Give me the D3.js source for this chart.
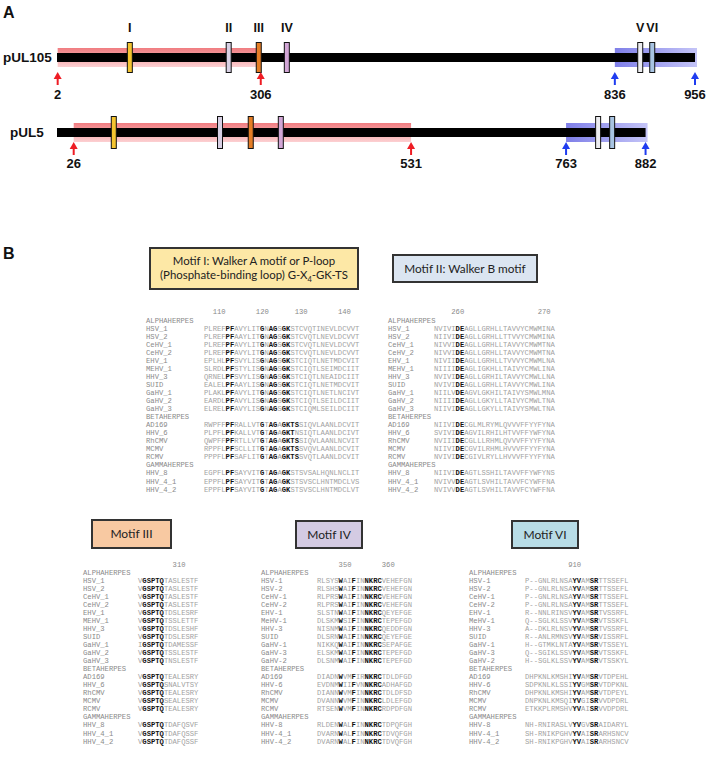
<!DOCTYPE html>
<html><head><meta charset="utf-8">
<script src="https://cdn.jsdelivr.net/npm/d3@7"></script>
<style>body{margin:0;background:#fff}</style>
</head><body><svg id="c" width="710" height="760"></svg>
<script>
// ---------------- Panel A data ----------------
const proteins = ["pUL105", "pUL5"];
const proteinLengths = [956, 882];
const motifNames = ["I", "II", "III", "IV", "V", "VI"];
const motifPosUL105 = [110, 258, 303, 345, 874, 892];
const motifPosUL5 = [86, 245, 291, 336, 811, 832];
const nRegionUL105 = [2, 306];
const cRegionUL105 = [836, 956];
const nRegionUL5 = [26, 531];
const cRegionUL5 = [763, 882];

// ---------------- Panel B data ----------------
const labelsUnderscore = ["ALPHAHERPES","HSV_1","HSV_2","CeHV_1","CeHV_2","EHV_1","MEHV_1","HHV_3","SUID","GaHV_1","GaHV_2","GaHV_3","BETAHERPES","AD169","HHV_6","RhCMV","MCMV","RCMV","GAMMAHERPES","HHV_8","HHV_4_1","HHV_4_2"];
const labelsHyphen = ["ALPHAHERPES","HSV-1","HSV-2","CeHV-1","CeHV-2","EHV-1","MeHV-1","HHV-3","SUID","GaHV-1","GaHV-3","GaHV-2","BETAHERPES","AD169","HHV-6","RhCMV","MCMV","RCMV","GAMMAHERPES","HHV-8","HHV-4_1","HHV-4_2"];

const motif1Seqs = ["",
"PLREF[PF]AVYLIT[G]N[AG]S[GK]STCVQTINEVLDCVVT",
"PLREF[PF]AAYLIT[G]N[AG]S[GK]STCVQTLNEVLDCVVT",
"PLREF[PF]AVYLIT[G]N[AG]S[GK]STCVQTLNEVLDCVVT",
"PLREF[PF]AVYLIT[G]N[AG]S[GK]STCVQTLNEVLDCVVT",
"EPLHL[PF]SVYLIS[G]N[AG]S[GK]STCIQTLNETMDCVIT",
"SLRDL[PF]STYLIS[G]N[AG]S[GK]STCIQTLSEIMDCIIT",
"QRNEL[PF]SVYLIS[G]N[AG]S[GK]STCIQTLNEAIDCIIT",
"EALEL[PF]AAYLIS[G]N[AG]S[GK]STCIQTLNETMDCVIT",
"PLAKL[PF]AVYLIT[G]N[AG]S[GK]STCIQTLNETLNCIVT",
"EARDL[PF]AVYLIS[G]N[AG]S[GK]STCIQTLSEILDCIIT",
"ELREL[PF]AVYLIS[G]N[AG]S[GK]STCIQMLSEILDCIIT",
"",
"RWPFF[PF]RALLVT[G]T[AG]A[GKTS]SIQVLAANLDCVIT",
"PLPFL[PF]KALLVT[G]T[AG]A[GKT]NSIQTLAANLDCIVT",
"QWPFF[PF]RTLLVT[G]T[AG]A[GKTS]SIQVLAANLNCVIT",
"RPPFL[PF]SCLLIT[G]T[AG]A[GKTS]SVQVLAANLDCVIT",
"PPPFL[PF]SAFLIT[G]T[AG]A[GKTS]SVQTLAANLDCVIT",
"",
"EGPFL[PF]SAYVIT[G]T[AG]A[GK]STSVSALHQNLNCLIT",
"EPPFL[PF]SAYVIT[G]T[AG]A[GK]STSVSCLHNTMDCLVS",
"EPPFL[PF]SAYVIT[G]T[AG]A[GK]STSVSCLHNTMDCLVT"];
const motif1TickLabels = ["110","120","130","140"];
const motif1TickCols = [3, 13, 22, 32];

const motif2Seqs = ["",
"NVIVI[DE]AGLLGRHLLTAVVYCMWMINA",
"NIIVI[DE]AGLLGRHLLTTVVYCMWMINA",
"NIVVI[DE]AGLLGRHLLTAVVYCMWMTNA",
"NIVVI[DE]AGLLGRHLLTAVVYCMWMTNA",
"NIVII[DE]AGLLGRHLLTVVVYCMWMLNA",
"NIIII[DE]AGLIGKHLLTAIVYCMWLINA",
"NVIVI[DE]AGLLGRHILTAVVYCMWLLNA",
"NVIVI[DE]AGLLGRHLLTAVVYCMWLINA",
"NIILV[DE]AGVLGKHILTAIVYSMWLMNA",
"NIIII[DE]AGLLGKYLLTAIVYCMWLTNA",
"NIIVI[DE]AGLLGKYLLTAIVYSMWLTNA",
"",
"NIIVI[DE]CGLMLRYMLQVVVFFYYFYNA",
"SVIVI[DE]AGVILRHILHTVVFFYWFYNA",
"NVIII[DE]CGLLLRHMLQVVVFFYYFYNA",
"NIIVI[DE]CGVILRHMLHVVVFFYYFYNA",
"NVIVI[DE]CGIVLRYLLHVVVFFYYFYNA",
"",
"NIIVI[DE]AGTLSSHILTAVVFFYWFYNS",
"NVIVV[DE]AGTLSVHILTAVVFCYWFFNA",
"NVIVV[DE]AGTLSVHILTAVVFCYWFFNA"];
const motif2TickLabels = ["260","270"];
const motif2TickCols = [5, 25];

const motif3Seqs = ["",
"V[GSPTQ]TASLESTF","V[GSPTQ]TASLESTF","V[GSPTQ]TASLESTF","V[GSPTQ]TASLESTF",
"V[GSPTQ]TDSLESRF","V[GSPTQ]TSSLETTF","V[GSPTQ]TDSLESHF","V[GSPTQ]TDSLESRF",
"I[GSPTQ]TDAMESSF","V[GSPTQ]TSSLESTF","V[GSPTQ]TNSLESTF",
"",
"V[GSPTQ]TEALESRY","V[GSPTQ]SNALVTSY","V[GSPTQ]TEALESRY","V[GSPTQ]SEALESRY","V[GSPTQ]TEALESRY",
"",
"V[GSPTQ]TDAFQSVF","V[GSPTQ]TDAFQSSF","V[GSPTQ]TDAFQSSF"];
const motif3TickLabels = ["310"];
const motif3TickCols = [9];

const motif4Seqs = ["",
"RLSYS[W]AI[F]IN[NKRC]VEHEFGN",
"RLSHS[W]AI[F]IN[NKRC]VEHEFGN",
"RLPRS[W]AI[F]IN[NKRC]VEHEFGN",
"RLPRS[W]AI[F]IN[NKRC]VEHEFGN",
"SLSTN[W]AI[F]IN[NKRC]QEYEFGE",
"DLSKM[W]SI[F]IN[NKRC]TEPEFGD",
"NISNM[W]AI[F]IN[NKRC]QEDDFGN",
"DLSRN[W]AI[F]IN[NKRC]QEYEFGE",
"NIKKQ[W]AI[F]IN[NKRC]SEPAFGE",
"ELSKM[W]AI[F]IN[NKRC]TEPEFGD",
"DLSNM[W]AI[F]IN[NKRC]TEPEFGD",
"",
"DIADN[W]VM[F]IR[NKRC]TDLDFGD",
"EVDNM[W]II[F]VN[NKRC]ADHAFGD",
"DIANN[W]VM[F]IN[NKRC]TDLDFSD",
"DVANN[W]VM[F]IN[NKRC]LDLEFGD",
"RTSEN[W]VM[F]IN[NKRC]RDPDFGN",
"",
"RLDEN[W]AL[F]IN[NKRC]TDPQFGH",
"DVARN[W]AL[F]IN[NKRC]TDVQFGH",
"DVARN[W]AL[F]IN[NKRC]TDVQFGH"];
const motif4TickLabels = ["350","360"];
const motif4TickCols = [6, 16];

const motif6Seqs = ["",
"P--GNLRLNSA[YV]AM[SR]TTSSEFL",
"P--GNLRLNSA[YV]AM[SR]TTSSEFL",
"P--GNLRLNSA[YV]AM[SR]TTSSEFL",
"P--GNLRLNSA[YV]AM[SR]TTSSEFL",
"R--NNLRINSV[YV]AM[SR]TVSSRFL",
"Q--SGLKLSSV[YV]AM[SR]VTSSKFL",
"A--DKLRLNSV[YV]AM[SR]TVSSRFL",
"R--ANLRMNSV[YV]AM[SR]VISSRFL",
"H--GTMKLNTA[YV]AM[SR]VTSSEYL",
"Q--SGIKLSSV[YV]AM[SR]VTSSKFL",
"H--SGLKLSSV[YV]AM[SR]VTSSKYL",
"",
"DHPKNLKMSHI[YV]AM[SR]VTDPEHL",
"SDPKNLKLSSI[YV]GM[SR]VTDPKNL",
"DHPKNLKMSHI[YV]AM[SR]VTDPEYL",
"DNPKNLKMSQI[YV]GI[SR]VVDPDRL",
"ETKKPLRMSHV[YV]AI[SR]VVDPDRL",
"",
"NH-RNIRASLV[YV]GV[SR]AIDARYL",
"SH-RNIKPGHV[YV]AI[SR]ARHSNCV",
"SH-RNIKPGHV[YV]AI[SR]ARHSNCV"];
const motif6TickLabels = ["910"];
const motif6TickCols = [11];

// ---------------- drawing ----------------
const svg = d3.select("#c");
const defs = svg.append("defs");
const pink = defs.append("linearGradient").attr("id","pink").attr("x1",0).attr("y1",0).attr("x2",0).attr("y2",1);
pink.append("stop").attr("offset","0%").attr("stop-color","#f07c80");
pink.append("stop").attr("offset","100%").attr("stop-color","#fcd0d2");
const blue = defs.append("linearGradient").attr("id","blue").attr("x1",0).attr("y1",0).attr("x2",1).attr("y2",0);
blue.append("stop").attr("offset","0%").attr("stop-color","#7f7fe8");
blue.append("stop").attr("offset","100%").attr("stop-color","#c4c4f7");

const SANS = "'Liberation Sans', Arial, sans-serif";
const x = d3.scaleLinear().domain([1, 956]).range([57, 695]);

svg.append("text").attr("x",3).attr("y",18).text("A")
  .attr("font-family",SANS).attr("font-weight","bold").attr("font-size",16).attr("fill","#111");

const motifColors = ["#f4c430","#d8d0e4","#e57d25","#d2a6d6","#ececf0","#a8c4e2"];
const rowsA = [
  {name: proteins[0], len: proteinLengths[0], motifs: motifPosUL105, n: nRegionUL105, c: cRegionUL105,
   cy: 57.5, labelX: 3, bh: 30, tip: 72, lab: 94, roman: true},
  {name: proteins[1], len: proteinLengths[1], motifs: motifPosUL5, n: nRegionUL5, c: cRegionUL5,
   cy: 132.5, labelX: 10, bh: 32, tip: 142, lab: 163, roman: false}
];

rowsA.forEach(r => {
  const g = svg.append("g");
  g.append("rect").attr("x", x(r.n[0])).attr("width", x(r.n[1]) - x(r.n[0]))
    .attr("y", r.cy - 9.5).attr("height", 19).attr("fill","url(#pink)");
  g.append("rect").attr("x", x(r.c[0])).attr("width", x(r.c[1]) - x(r.c[0]) + 2)
    .attr("y", r.cy - 9.5).attr("height", 19).attr("fill","url(#blue)");
  g.append("rect").attr("x", x(1)).attr("width", x(r.len) - x(1))
    .attr("y", r.cy - 4.5).attr("height", 9).attr("fill","#000");
  g.selectAll(".m").data(r.motifs).join("rect")
    .attr("x", d => x(d) - 2.5).attr("width", 5)
    .attr("y", r.cy - r.bh/2).attr("height", r.bh)
    .attr("fill", (d,i) => motifColors[i]).attr("stroke","#111").attr("stroke-width",1);
  if (r.roman) {
    g.selectAll(".r").data(r.motifs).join("text")
      .attr("x", d => x(d)).attr("y", 27).attr("dy","0.36em")
      .attr("text-anchor","middle").attr("font-family",SANS).attr("font-weight","bold")
      .attr("font-size",12.5).attr("fill","#111").text((d,i) => motifNames[i]);
  }
  g.append("text").attr("x", r.labelX).attr("y", r.cy).attr("dy","0.36em")
    .attr("font-family",SANS).attr("font-weight","bold").attr("font-size",13.5).attr("fill","#111").text(r.name);
  const arrows = [
    {v: r.n[0], col: "#ee1c24"}, {v: r.n[1], col: "#ee1c24"},
    {v: r.c[0], col: "#1f3cf0"}, {v: r.c[1], col: "#1f3cf0"}];
  arrows.forEach(a => {
    const ax = x(a.v);
    g.append("line").attr("x1",ax).attr("x2",ax).attr("y1",r.tip+5).attr("y2",r.tip+13)
      .attr("stroke",a.col).attr("stroke-width",2);
    g.append("path").attr("d",`M${ax},${r.tip} L${ax-4},${r.tip+7} L${ax+4},${r.tip+7} Z`).attr("fill",a.col);
    g.append("text").attr("x",ax).attr("y",r.lab).attr("dy","0.36em").attr("text-anchor","middle")
      .attr("font-family",SANS).attr("font-weight","bold").attr("font-size",13).attr("fill","#111").text(a.v);
  });
});

// ---------------- Panel B ----------------
svg.append("text").attr("x",3).attr("y",259).text("B")
  .attr("font-family",SANS).attr("font-weight","bold").attr("font-size",16).attr("fill","#111");

const BOXFONT = "Lato, 'Open Sans', sans-serif";
const headers = [
  {x:150, y:248, w:208, h:41, fill:"#fde8a6", fs:11.4, lines:["Motif I: Walker A motif or P-loop", "(Phosphate-binding loop) G-X|4|-GK-TS"]},
  {x:393, y:255, w:144, h:27, fill:"#dbe5f1", fs:11.8, lines:["Motif II: Walker B motif"]},
  {x:92,  y:520, w:79,  h:28, fill:"#f8c9a2", fs:12, lines:["Motif III"]},
  {x:296, y:521, w:66,  h:27, fill:"#d4cbe3", fs:12, lines:["Motif IV"]},
  {x:512, y:521, w:66,  h:27, fill:"#b8dce6", fs:12, lines:["Motif VI"]}
];
headers.forEach(h => {
  svg.append("rect").attr("x",h.x).attr("y",h.y).attr("width",h.w).attr("height",h.h)
    .attr("fill",h.fill).attr("stroke","#333").attr("stroke-width",2);
  const n = h.lines.length;
  h.lines.forEach((ln,i) => {
    const t = svg.append("text").attr("x", h.x + h.w/2)
      .attr("y", h.y + h.h/2 + (i - (n-1)/2) * 14).attr("dy","0.35em")
      .attr("text-anchor","middle").attr("font-family",BOXFONT).attr("font-size",h.fs).attr("fill","#222");
    ln.split("|").forEach((part,k) => {
      const sp = t.append("tspan").text(part);
      if (k === 1) sp.attr("font-size",7.5).attr("dy","3");
      if (k === 2) sp.attr("dy","-3");
    });
  });
});

const MONO = "'Liberation Mono', 'Courier New', monospace";
const CW = 4.32, FS = 7.2, ROW = 8.05;
function parse(s) {
  const out = []; const re = /\[([^\]]+)\]|([^\[]+)/g; let m;
  while ((m = re.exec(s))) out.push(m[1] ? {t: m[1], b: true} : {t: m[2], b: false});
  return out;
}
const blocks = [
  {labels: labelsUnderscore, seqs: motif1Seqs, tl: motif1TickLabels, tc: motif1TickCols, lx:146, sx:204, y0:320, ty:311},
  {labels: labelsUnderscore, seqs: motif2Seqs, tl: motif2TickLabels, tc: motif2TickCols, lx:388, sx:434, y0:320, ty:311},
  {labels: labelsUnderscore, seqs: motif3Seqs, tl: motif3TickLabels, tc: motif3TickCols, lx:83,  sx:138, y0:572, ty:564},
  {labels: labelsHyphen,     seqs: motif4Seqs, tl: motif4TickLabels, tc: motif4TickCols, lx:261, sx:317, y0:572, ty:564},
  {labels: labelsHyphen,     seqs: motif6Seqs, tl: motif6TickLabels, tc: motif6TickCols, lx:469, sx:525, y0:572, ty:564}
];
blocks.forEach(b => {
  const g = svg.append("g").attr("font-family", MONO).attr("font-size", FS);
  const col = d3.scaleLinear().domain([0, 1]).range([b.sx, b.sx + CW]);
  const row = d3.scaleLinear().domain([0, 1]).range([b.y0, b.y0 + ROW]);
  g.selectAll(".tick").data(b.tl).join("text")
    .attr("x", (d,i) => col(b.tc[i] + 0.5)).attr("y", b.ty).attr("dy","0.35em")
    .attr("text-anchor","middle").attr("fill","#8a8a8a").text(d => d);
  g.selectAll(".lab").data(b.labels).join("text")
    .attr("x", b.lx).attr("y", (d,i) => row(i)).attr("dy","0.35em")
    .attr("fill","#8a8a8a").text(d => d);
  b.seqs.forEach((s,i) => {
    if (!s) return;
    const t = g.append("text").attr("x", col(0)).attr("y", row(i)).attr("dy","0.35em")
      .style("white-space","pre");
    parse(s).forEach(p => {
      t.append("tspan").text(p.t).attr("fill", p.b ? "#111" : "#a2a2a2")
        .attr("font-weight", p.b ? "bold" : "normal");
    });
  });
});
</script></body></html>
